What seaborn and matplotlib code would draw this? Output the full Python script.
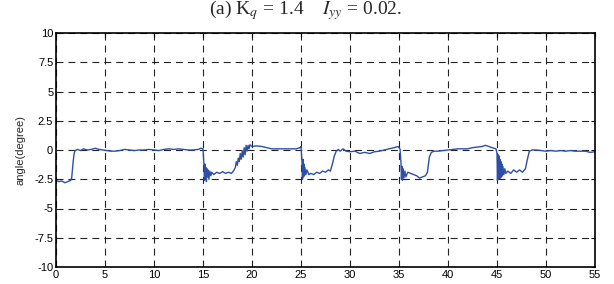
import numpy as np
import pandas as pd
import seaborn as sns
import matplotlib
matplotlib.use("Agg")
import matplotlib.pyplot as plt

# time (s) and angle (degree)
time = [0.0, 0.3, 0.6, 0.9, 1.2, 1.5, 1.6, 1.75, 1.85, 1.95,
        2.2, 2.5, 2.8, 3.2, 3.6, 4.0, 4.4, 4.8, 5.2, 5.6,
        6.0, 6.5, 7.0, 7.5, 8.0, 8.5, 9.0, 9.5, 10.0, 10.5,
        11.0, 11.5, 12.0, 12.5, 13.0, 13.5, 14.0, 14.5, 14.8, 15.0,
        15.1, 15.15, 15.2, 15.25, 15.3, 15.35, 15.4, 15.45, 15.5, 15.6,
        15.7, 15.8, 15.9, 16.1, 16.4, 16.7, 17.0, 17.3, 17.6, 17.9,
        18.1, 18.3, 18.4, 18.5, 18.6, 18.7, 18.8, 18.9, 19.0, 19.1,
        19.2, 19.3, 19.4, 19.5, 19.6, 19.7, 19.8, 20.0, 20.5, 21.0,
        21.5, 22.0, 22.5, 23.0, 23.5, 24.0, 24.5, 24.9, 25.0, 25.1,
        25.15, 25.2, 25.25, 25.3, 25.35, 25.4, 25.5, 25.6, 25.8, 26.0,
        26.3, 26.6, 26.9, 27.2, 27.5, 27.8, 28.0, 28.2, 28.4, 28.6,
        28.8, 29.0, 29.3, 29.6, 30.0, 30.5, 31.0, 31.5, 32.0, 32.5,
        33.0, 33.5, 34.0, 34.5, 34.9, 35.1, 35.2, 35.25, 35.3, 35.35,
        35.4, 35.5, 35.6, 35.7, 35.9, 36.2, 36.5, 36.8, 37.1, 37.4,
        37.7, 37.9, 38.1, 38.3, 38.6, 39.0, 39.5, 40.0, 40.5, 41.0,
        41.5, 42.0, 42.5, 43.0, 43.5, 43.8, 44.0, 44.5, 44.9, 45.0,
        45.05, 45.1, 45.15, 45.2, 45.25, 45.3, 45.35, 45.4, 45.45, 45.5,
        45.55, 45.6, 45.7, 45.8, 45.9, 46.1, 46.4, 46.7, 47.0, 47.3,
        47.6, 47.9, 48.1, 48.3, 48.6, 49.0, 49.5, 50.0, 50.5, 51.0,
        51.5, 52.0, 52.5, 53.0, 53.5, 54.0, 54.5, 55.0]
angle = [-2.6, -2.7, -2.65, -2.8, -2.7, -2.6, -2.4, -1.0, -0.3, -0.05,
         0.05, -0.05, 0.1, 0.0, 0.05, 0.15, 0.05, 0.0, -0.05, -0.1,
         -0.1, -0.05, 0.05, 0.0, -0.05, 0.0, 0.0, 0.05, 0.0, -0.05,
         0.05, 0.1, 0.05, 0.1, 0.05, 0.0, 0.0, 0.05, 0.15, 0.1,
         -1.3, -2.6, -1.2, -2.4, -1.5, -2.7, -1.6, -2.3, -1.7, -2.5,
         -1.8, -2.2, -1.9, -2.1, -1.9, -2.0, -1.85, -2.0, -1.9, -2.0,
         -1.8, -1.5, -1.0, -1.3, -0.7, -1.0, -0.3, -0.8, -0.1, -0.6,
         0.2, -0.4, 0.4, -0.1, 0.4, 0.1, 0.45, 0.3, 0.35, 0.3,
         0.2, 0.1, 0.1, 0.1, 0.1, 0.1, 0.1, 0.2, 0.3, -1.0,
         -2.5, -0.8, -2.3, -1.2, -2.2, -1.5, -2.1, -1.7, -2.1, -2.0,
         -2.1, -1.9, -2.0, -1.8, -1.9, -1.7, -1.8, -1.2, -0.5, -0.1,
         0.05, -0.1, 0.1, -0.1, -0.15, -0.1, -0.3, -0.2, -0.3, -0.15,
         -0.1, 0.0, 0.1, 0.2, 0.3, 0.1, -1.0, -2.5, -1.4, -2.6,
         -1.6, -2.4, -1.8, -2.3, -1.9, -2.0, -2.1, -2.2, -2.4, -2.3,
         -2.2, -1.9, -0.6, -0.2, -0.1, -0.1, -0.05, 0.0, 0.05, 0.1,
         0.1, 0.1, 0.2, 0.25, 0.3, 0.4, 0.35, 0.2, 0.1, -0.3,
         -2.6, -0.4, -2.5, -0.5, -2.4, -0.8, -2.4, -1.0, -2.3, -1.2,
         -2.2, -1.4, -2.1, -1.6, -2.0, -1.8, -2.0, -1.7, -1.9, -1.7,
         -1.9, -1.6, -0.8, -0.1, 0.0, 0.0, -0.05, -0.1, -0.05, -0.1,
         -0.05, -0.1, -0.05, -0.1, -0.1, -0.1, -0.2, -0.15]

xticks = [0, 5, 10, 15, 20, 25, 30, 35, 40, 45, 50, 55]
yticks = [10, 7.5, 5, 2.5, 0, -2.5, -5, -7.5, -10]
ytick_labels = ["10", "7.5", "5", "2.5", "0", "-2.5", "-5", "-7.5", "-10"]

df = pd.DataFrame({"time": time, "angle": angle})

sns.set_style("white")
plt.rcParams["font.family"] = ["Liberation Sans", "DejaVu Sans"]
plt.rcParams["mathtext.fontset"] = "stix"
plt.rcParams["axes.unicode_minus"] = False
plt.rcParams["lines.scale_dashes"] = False

fig = plt.figure(figsize=(6.14, 2.84), dpi=100)
ax = fig.add_axes([56 / 614, 17 / 284, 539 / 614, 234 / 284])

sns.lineplot(data=df, x="time", y="angle", ax=ax, sort=False,
             estimator=None, color="#2f4fa6", linewidth=1.0)

ax.set_xlim(0, 55)
ax.set_ylim(-10, 10)
ax.set_xticks(xticks)
ax.set_xticklabels([str(t) for t in xticks])
ax.set_yticks(yticks)
ax.set_yticklabels(ytick_labels)
ax.grid(True, color="#222222", linestyle=(0, (5, 3.6)), linewidth=0.8)
ax.set_axisbelow(True)
for s in ax.spines.values():
    s.set_color("black")
    s.set_linewidth(1.2)
ax.tick_params(direction="in", length=3, width=0.8, top=True, right=True,
               labelsize=8, colors="black", pad=2)
ax.set_xlabel("")
ax.set_ylabel("angle(degree)", fontsize=8, labelpad=6)

fig.text(306 / 614, 1 - 14.5 / 284,
         r"(a) K$_q$ = 1.4    $I_{yy}$ = 0.02.",
         ha="center", va="baseline", fontsize=14,
         family=["Liberation Serif", "DejaVu Serif"])

fig.savefig("out.png", dpi=100)
